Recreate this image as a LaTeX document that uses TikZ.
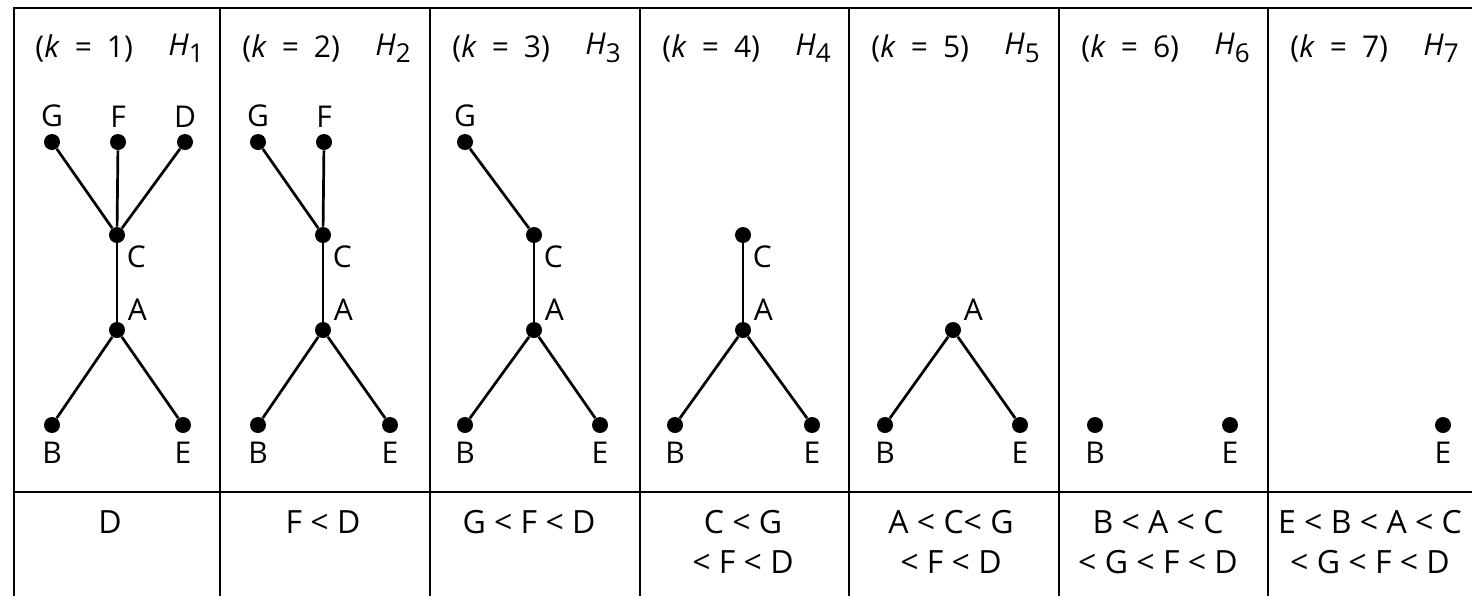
\documentclass[tikz,border=0pt]{standalone}
\usepackage{fontspec}
\setmainfont{Open Sans}
\usetikzlibrary{positioning}
\newcommand{\stage}[1]{(\textit{k}\enspace=\enspace#1)}
\newcommand{\hset}[1]{\textit{H}\raisebox{-0.45ex}{\fontsize{13}{14}\selectfont#1}}
\tikzset{
  frame/.style  = {line width=1pt},
  vdot/.style   = {circle, fill=black, inner sep=0pt, minimum size=8pt},
  edge/.style   = {line width=1.35pt},
  vname/.style  = {font=\fontsize{15}{17}\selectfont, inner sep=2pt},
  head/.style   = {font=\fontsize{15}{17}\selectfont, inner sep=0pt},
  order/.style  = {font=\fontsize{16}{20}\selectfont, align=center, inner sep=0pt},
  % label placements round a vertex
  up/.style     = {label={[vname, label distance=1pt]above:#1}},
  down/.style   = {label={[vname, label distance=2pt]below:#1}},
  sidedown/.style = {label={[vname, label distance=0pt]-50:#1}},
  sideup/.style   = {label={[vname, label distance=0pt]40:#1}},
}

\begin{document}
\begin{tikzpicture}[x=0.5pt, y=-0.5pt]
  \useasboundingbox (0,0) rectangle (1472,596);

  % table frame
  \draw[frame] (14,596) -- (14,8) -- (1472,8);
  \draw[frame] (14,492) -- (1472,492);
  \draw[frame] (220,8) -- (220,596);
  \draw[frame] (430,8) -- (430,596);
  \draw[frame] (640,8) -- (640,596);
  \draw[frame] (849,8) -- (849,596);
  \draw[frame] (1059,8) -- (1059,596);
  \draw[frame] (1268,8) -- (1268,596);

  % headers
  \node[head, anchor=west] (k1) at (35,48)   {\stage{1}};
  \node[head, anchor=west] (h1) at (168,48)  {\hset{1}};
  \node[head, anchor=west] (k2) at (242,48)  {\stage{2}};
  \node[head, anchor=west] (h2) at (375,48)  {\hset{2}};
  \node[head, anchor=west] (k3) at (452,48)  {\stage{3}};
  \node[head, anchor=west] (h3) at (585,48)  {\hset{3}};
  \node[head, anchor=west] (k4) at (662,48)  {\stage{4}};
  \node[head, anchor=west] (h4) at (795,48)  {\hset{4}};
  \node[head, anchor=west] (k5) at (871,48)  {\stage{5}};
  \node[head, anchor=west] (h5) at (1004,48) {\hset{5}};
  \node[head, anchor=west] (k6) at (1081,48) {\stage{6}};
  \node[head, anchor=west] (h6) at (1214,48) {\hset{6}};
  \node[head, anchor=west] (k7) at (1290,48) {\stage{7}};
  \node[head, anchor=west] (h7) at (1423,48) {\hset{7}};

  % k = 1
  \node[vdot, up=G]       (g1) at (52,142)  {};
  \node[vdot, up=F]       (f1) at (118,142) {};
  \node[vdot, up=D]       (d1) at (185,142) {};
  \node[vdot, sidedown=C] (c1) at (117,235) {};
  \node[vdot, sideup=A]   (a1) at (117,330) {};
  \node[vdot, down=B]     (b1) at (52,425)  {};
  \node[vdot, down=E]     (e1) at (183,425) {};
  \draw[edge] (g1) -- (c1);
  \draw[edge] (f1) -- (c1);
  \draw[edge] (d1) -- (c1);
  \draw[edge] (c1) -- (a1);
  \draw[edge] (a1) -- (b1);
  \draw[edge] (a1) -- (e1);

  % k = 2
  \node[vdot, up=G]       (g2) at (258,142) {};
  \node[vdot, up=F]       (f2) at (324,142) {};
  \node[vdot, sidedown=C] (c2) at (323,235) {};
  \node[vdot, sideup=A]   (a2) at (323,330) {};
  \node[vdot, down=B]     (b2) at (258,425) {};
  \node[vdot, down=E]     (e2) at (390,425) {};
  \draw[edge] (g2) -- (c2);
  \draw[edge] (f2) -- (c2);
  \draw[edge] (c2) -- (a2);
  \draw[edge] (a2) -- (b2);
  \draw[edge] (a2) -- (e2);

  % k = 3
  \node[vdot, up=G]       (g3) at (465,142) {};
  \node[vdot, sidedown=C] (c3) at (534,235) {};
  \node[vdot, sideup=A]   (a3) at (534,330) {};
  \node[vdot, down=B]     (b3) at (465,425) {};
  \node[vdot, down=E]     (e3) at (600,425) {};
  \draw[edge] (g3) -- (c3);
  \draw[edge] (c3) -- (a3);
  \draw[edge] (a3) -- (b3);
  \draw[edge] (a3) -- (e3);

  % k = 4
  \node[vdot, sidedown=C] (c4) at (743,235) {};
  \node[vdot, sideup=A]   (a4) at (743,330) {};
  \node[vdot, down=B]     (b4) at (675,425) {};
  \node[vdot, down=E]     (e4) at (812,425) {};
  \draw[edge] (c4) -- (a4);
  \draw[edge] (a4) -- (b4);
  \draw[edge] (a4) -- (e4);

  % k = 5
  \node[vdot, sideup=A]   (a5) at (953,330)  {};
  \node[vdot, down=B]     (b5) at (885,425)  {};
  \node[vdot, down=E]     (e5) at (1020,425) {};
  \draw[edge] (a5) -- (b5);
  \draw[edge] (a5) -- (e5);

  % k = 6, k = 7
  \node[vdot, down=B]     (b6) at (1095,425) {};
  \node[vdot, down=E]     (e6) at (1230,425) {};
  \node[vdot, down=E]     (e7) at (1443,425) {};

  % orderings
  \node[order] (o1) at (110,522)  {D};
  \node[order] (o2) at (323,522)  {F < D};
  \node[order] (o3) at (529,522)  {G < F < D};
  \node[order] (o4) at (743,542)  {C < G\\< F < D};
  \node[order] (o5) at (951,542)  {A < C< G\\< F < D};
  \node[order] (o6) at (1158,542) {B < A < C\\< G < F < D};
  \node[order] (o7) at (1370,542) {E < B < A < C\\< G < F < D};
\end{tikzpicture}
\end{document}
